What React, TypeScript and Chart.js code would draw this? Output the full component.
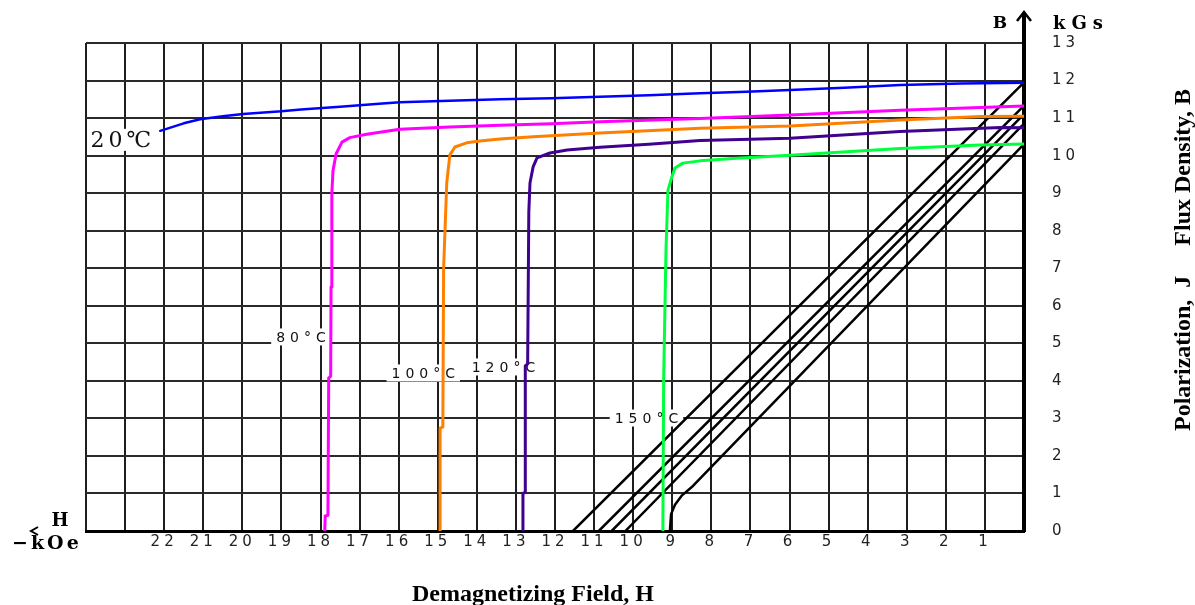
import React, { useEffect, useRef } from "react";
import { Chart, registerables } from "chart.js";

Chart.register(...registerables);

// ---- Axis ticks ----
const xTickLabels = [1, 2, 3, 4, 5, 6, 7, 8, 9, 10, 11, 12, 13, 14, 15, 16, 17, 18, 19, 20, 21, 22];
const yTickLabels = [0, 1, 2, 3, 4, 5, 6, 7, 8, 9, 10, 11, 12, 13];

// ---- J curves (H in kOe, J in kGs) ----
const j20H = [22.1, 21.5, 21.08, 20.5, 19.98, 19.0, 18.5, 17.5, 16.5, 15.97, 14.7, 13.4, 12.1, 10.85, 9.6, 8.29, 7.1, 5.99, 4.6, 3.17, 1.6, 0];
const j20B = [10.66, 10.86, 10.97, 11.05, 11.11, 11.18, 11.23, 11.3, 11.38, 11.42, 11.46, 11.5, 11.53, 11.57, 11.61, 11.66, 11.7, 11.75, 11.81, 11.88, 11.92, 11.94];

const j80H = [17.89, 17.88, 17.81, 17.79, 17.74, 17.73, 17.71, 17.68, 17.6, 17.45, 17.25, 16.82, 15.97, 14.7, 13.4, 12.1, 10.85, 8.29, 5.99, 3.17, 0];
const j80B = [0, 0.4, 0.42, 4.08, 4.12, 6.5, 9.0, 9.6, 10.05, 10.36, 10.48, 10.57, 10.7, 10.76, 10.81, 10.85, 10.9, 10.99, 11.08, 11.21, 11.32];

const j100H = [14.94, 14.94, 14.87, 14.85, 14.77, 14.69, 14.56, 14.26, 13.92, 13.41, 12.56, 10.85, 8.29, 5.99, 3.17, 1.1, 0];
const j100B = [0, 2.74, 2.77, 7.0, 9.27, 10.02, 10.23, 10.34, 10.39, 10.44, 10.5, 10.6, 10.73, 10.79, 10.95, 11.04, 11.05];

const j120H = [12.82, 12.82, 12.76, 12.76, 12.7, 12.67, 12.64, 12.56, 12.46, 12.13, 11.69, 10.85, 9.6, 8.29, 5.99, 3.17, 0.6, 0];
const j120B = [0, 1.0, 1.03, 4.4, 4.45, 8.5, 9.27, 9.7, 9.94, 10.07, 10.15, 10.22, 10.3, 10.4, 10.46, 10.64, 10.75, 10.74];

const j150H = [9.24, 9.22, 9.16, 9.11, 9.01, 8.93, 8.73, 8.29, 7.45, 5.99, 3.17, 1.13, 0];
const j150B = [0, 4.0, 7.5, 9.08, 9.43, 9.67, 9.8, 9.86, 9.92, 10.01, 10.19, 10.28, 10.31];

// ---- B curves ----
const b20H = [11.54, 0.05];
const b20B = [0, 11.9];
const b80H = [10.88, 0.05];
const b80B = [0, 11.28];
const b100H = [10.55, 0.05];
const b100B = [0, 11.05];
const b120H = [10.2, 0.05];
const b120B = [0, 10.8];
const b150H = [9.06, 9.03, 8.93, 8.75, 8.47, 0.05];
const b150B = [0, 0.45, 0.7, 0.95, 1.2, 10.25];

// ---- Temperature labels ----
const tempLabelText = ["20℃", "80°C", "100°C", "120°C", "150°C"];
const tempLabelH = [23.11, 18.5, 15.37, 13.32, 9.66];
const tempLabelB = [10.42, 5.17, 4.21, 4.37, 3.01];

const pts = (h: number[], b: number[]) => h.map((x, i) => ({ x, y: b[i] }));

function drawSpaced(ctx: CanvasRenderingContext2D, text: string, x: number, y: number, spacing: number, align: "left" | "center") {
  (ctx as any).letterSpacing = spacing + "px";
  const w = ctx.measureText(text).width - spacing;
  ctx.textAlign = "left";
  const sx = align === "center" ? x - w / 2 : x;
  ctx.fillText(text, sx, y);
  return { sx, w };
}

const spacingPlugin = {
  id: "spacing",
  beforeUpdate(chart: any) {
    (chart.ctx as any).letterSpacing = "4px";
  },
  beforeDraw(chart: any) {
    (chart.ctx as any).letterSpacing = "4px";
  },
};

const labelPlugin = {
  id: "tempLabels",
  beforeDatasetsDraw(chart: any) {
    const ctx: CanvasRenderingContext2D = chart.ctx;
    const xs = chart.scales.x;
    const ys = chart.scales.y;
    ctx.save();
    tempLabelText.forEach((t, i) => {
      const cx = xs.getPixelForValue(tempLabelH[i]);
      const cy = ys.getPixelForValue(tempLabelB[i]);
      const big = i === 0;
      ctx.font = big ? '22px "DejaVu Serif", "DejaVu Sans"' : '14px "DejaVu Sans"';
      const sp = big ? 4 : 5;
      (ctx as any).letterSpacing = sp + "px";
      const w = ctx.measureText(t).width - sp;
      const h = big ? 22 : 17;
      const pad = big ? 3 : 5;
      ctx.fillStyle = "#ffffff";
      ctx.fillRect(cx - w / 2 - pad, cy - h / 2, w + pad * 2, h);
      ctx.fillStyle = "#111";
      ctx.textBaseline = "middle";
      drawSpaced(ctx, t, cx, cy + 1, sp, "center");
    });
    ctx.restore();
  },
};

const decorPlugin = {
  id: "decor",
  afterDraw(chart: any) {
    const ctx: CanvasRenderingContext2D = chart.ctx;
    const a = chart.chartArea;
    ctx.save();
    ctx.strokeStyle = "#000";
    ctx.fillStyle = "#000";
    // vertical axis extension + arrow
    ctx.lineWidth = 4;
    ctx.beginPath();
    ctx.moveTo(a.right, a.top + 1);
    ctx.lineTo(a.right, 14);
    ctx.stroke();
    ctx.lineWidth = 2.5;
    ctx.beginPath();
    ctx.moveTo(a.right - 7, 21);
    ctx.lineTo(a.right, 12);
    ctx.lineTo(a.right + 7, 21);
    ctx.stroke();
    // left arrow for H
    ctx.lineWidth = 2;
    ctx.beginPath();
    ctx.moveTo(38, a.bottom - 4);
    ctx.lineTo(31, a.bottom);
    ctx.lineTo(38, a.bottom + 4);
    ctx.stroke();

    ctx.textBaseline = "alphabetic";
    ctx.font = 'bold 17px "DejaVu Serif"';
    drawSpaced(ctx, "B", 1000, 28, 0, "center");
    ctx.font = 'bold 18px "DejaVu Serif"';
    drawSpaced(ctx, "kGs", 1053, 29, 6, "left");
    ctx.font = 'bold 18px "DejaVu Serif"';
    drawSpaced(ctx, "H", 60, 526, 0, "center");
    ctx.font = 'bold 19px "DejaVu Serif"';
    drawSpaced(ctx, "−kOe", 12, 549, 3, "left");

    // axis titles
    ctx.font = 'bold 24px "Liberation Serif"';
    drawSpaced(ctx, "Demagnetizing Field, H", 533, 601, 0, "center");
    ctx.translate(1190, 260);
    ctx.rotate(-Math.PI / 2);
    drawSpaced(ctx, "Polarization,  J     Flux Density, B", 0, 0, 0, "center");
    ctx.restore();
  },
};

export default function App() {
  const ref = useRef<HTMLCanvasElement | null>(null);
  useEffect(() => {
    if (!ref.current) return;
    const tickFont = { family: '"DejaVu Sans"', size: 15 };
    const line = (h: number[], b: number[], color: string, width: number) => ({
      data: pts(h, b),
      borderColor: color,
      backgroundColor: color,
      borderWidth: width,
      pointRadius: 0,
      fill: false,
      tension: 0,
    });
    const chart = new Chart(ref.current, {
      type: "line",
      data: {
        datasets: [
          line(j20H, j20B, "#0000ff", 2.5),
          line(j80H, j80B, "#ff00ff", 3),
          line(j100H, j100B, "#ff8000", 3),
          line(j120H, j120B, "#400090", 3),
          line(j150H, j150B, "#00ff3c", 3),
          line(b20H, b20B, "#000000", 2.5),
          line(b80H, b80B, "#000000", 2.5),
          line(b100H, b100B, "#000000", 2.5),
          line(b120H, b120B, "#000000", 2.5),
          line(b150H, b150B, "#000000", 2.5),
        ] as any,
      },
      options: {
        animation: false,
        responsive: false,
        maintainAspectRatio: false,
        layout: { padding: { left: 86, top: 43, right: 0, bottom: 0 } },
        plugins: { legend: { display: false }, tooltip: { enabled: false } },
        elements: { line: { borderJoinStyle: "round", borderCapStyle: "round" } },
        scales: {
          x: {
            type: "linear",
            reverse: true,
            min: 0,
            max: 24,
            afterFit: (s: any) => {
              s.height = 74;
            },
            ticks: {
              stepSize: 1,
              autoSkip: false,
              maxRotation: 0,
              padding: 2,
              font: tickFont,
              color: "#222",
              callback: (v: any) => (xTickLabels.includes(Number(v)) ? String(v) : ""),
            },
            grid: { color: "#1e1e1e", lineWidth: 2, drawTicks: false },
            border: { display: true, color: "#000", width: 3 },
          },
          y: {
            type: "linear",
            position: "right",
            min: 0,
            max: 13,
            afterFit: (s: any) => {
              s.width = 171;
            },
            ticks: {
              stepSize: 1,
              autoSkip: false,
              padding: 28,
              font: tickFont,
              color: "#222",
              callback: (v: any) => (yTickLabels.includes(Number(v)) ? String(v) : ""),
            },
            grid: { color: "#2a2a2a", lineWidth: 2, drawTicks: false },
            border: { display: true, color: "#000", width: 4 },
          },
        },
      } as any,
      plugins: [spacingPlugin, labelPlugin, decorPlugin],
    });
    return () => chart.destroy();
  }, []);
  return (
    <div style={{ position: "fixed", left: 0, top: 0, width: 1195, height: 605, background: "#fff" }}>
      <canvas ref={ref} width={1195} height={605} style={{ display: "block", width: 1195, height: 605 }} />
    </div>
  );
}
